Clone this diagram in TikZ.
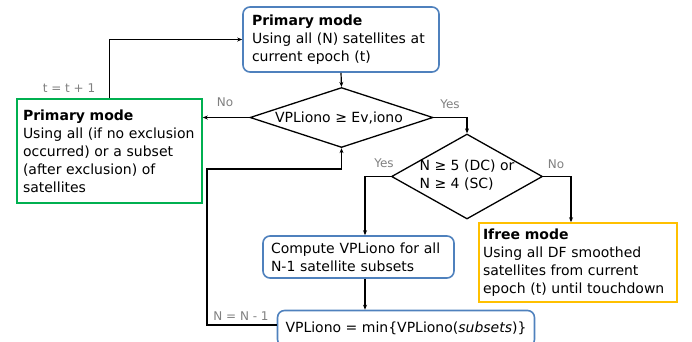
\documentclass[tikz,border=0pt]{standalone}
\usepackage{fontspec}
\setmainfont{DejaVu Sans}
\usetikzlibrary{shapes.geometric,arrows.meta}
\definecolor{boxblue}{RGB}{79,129,189}
\definecolor{boxgreen}{RGB}{0,176,80}
\definecolor{boxgold}{RGB}{255,192,0}
\definecolor{lblgray}{RGB}{128,128,128}
\tikzset{
  modebox/.style={draw, line width=1.6pt, inner xsep=8pt, inner ysep=0pt, align=left,
    font=\fontsize{14}{18}\selectfont},
  decision/.style={draw, diamond, line width=1.3pt, inner sep=0pt},
  flow/.style={line width=1.2pt, -{Stealth[length=5pt,width=4pt]}},
  lbl/.style={text=lblgray, font=\fontsize{12}{14}\selectfont, inner sep=0pt}
}
\begin{document}
\begin{tikzpicture}[x=1pt, y=-1pt]
	\useasboundingbox (0,0) rectangle (692,341);
	
	%boxes
	\node[modebox, draw=boxblue, rounded corners=7pt, inner xsep=9pt, text width=178pt, minimum height=65pt] (top) at (341,39.5)
		{\textbf{Primary mode}\\Using all (N) satellites at\\current epoch (t)};
	\node[modebox, draw=boxgreen, inner xsep=6pt, text width=173pt, minimum height=104pt] (prim) at (109.5,151)
		{\textbf{Primary mode}\\Using all (if no exclusion\\occurred) or a subset\\(after exclusion) of\\satellites};
	\node[modebox, draw=boxblue, rounded corners=7pt, text width=175pt, minimum height=42pt] (comp) at (358.5,257)
		{Compute VPLiono for all\\N-1 satellite subsets};
	\node[modebox, draw=boxgold, inner xsep=4pt, text width=190pt, minimum height=79pt] (ifree) at (578,262.5)
		{\textbf{Ifree mode}\\Using all DF smoothed\\satellites from current\\epoch (t) until touchdown};
	\node[modebox, draw=boxblue, rounded corners=7pt, minimum width=254pt, minimum height=36pt] (mn) at (406,328.5)
		{VPLiono = min\{VPLiono(\textit{subsets})\}};
	
	%decisions
	\node[decision, minimum width=183pt, minimum height=60pt] (ion) at (341.5,117.5) {};
	\node[font=\fontsize{14}{18}\selectfont] (iont) at (339,117.5) {VPLiono ≥ Ev,iono};
	\node[decision, minimum width=151pt, minimum height=85pt] (dc) at (467,176.5) {};
	\node[font=\fontsize{14}{18}\selectfont, align=left] (dct) at (467,175) {N ≥ 5 (DC) or\\N ≥ 4 (SC)};
	
	%connectors
	\coordinate (back) at (207,169);
	\draw[flow] (top.south) -- (ion.north);
	\draw[flow] (ion.west) -- (ion.west -| prim.east);
	\draw[flow] (prim.north) |- (top.west);
	\draw[flow] (ion.east) -| (dc.north);
	\draw[flow] (dc.west) -| ([xshift=6.5pt]comp.north);
	\draw[flow] (dc.east) -| ([xshift=-7pt]ifree.north);
	\draw[flow] ([xshift=6.5pt]comp.south) -- ([xshift=6.5pt]comp.south |- mn.north);
	\draw[flow] ([yshift=3.5pt]mn.west) -| (back) -| (ion.south);
	
	%labels
	\node[lbl] (lno) at (225,102) {No};
	\node[lbl] (lyes) at (450,104) {Yes};
	\node[lbl] (lyes2) at (384,163) {Yes};
	\node[lbl] (lno2) at (556,164) {No};
	\node[lbl] (linc) at (69,88) {t = t + 1};
	\node[lbl] (ldec) at (241,316) {N = N - 1};
\end{tikzpicture}
\end{document}
